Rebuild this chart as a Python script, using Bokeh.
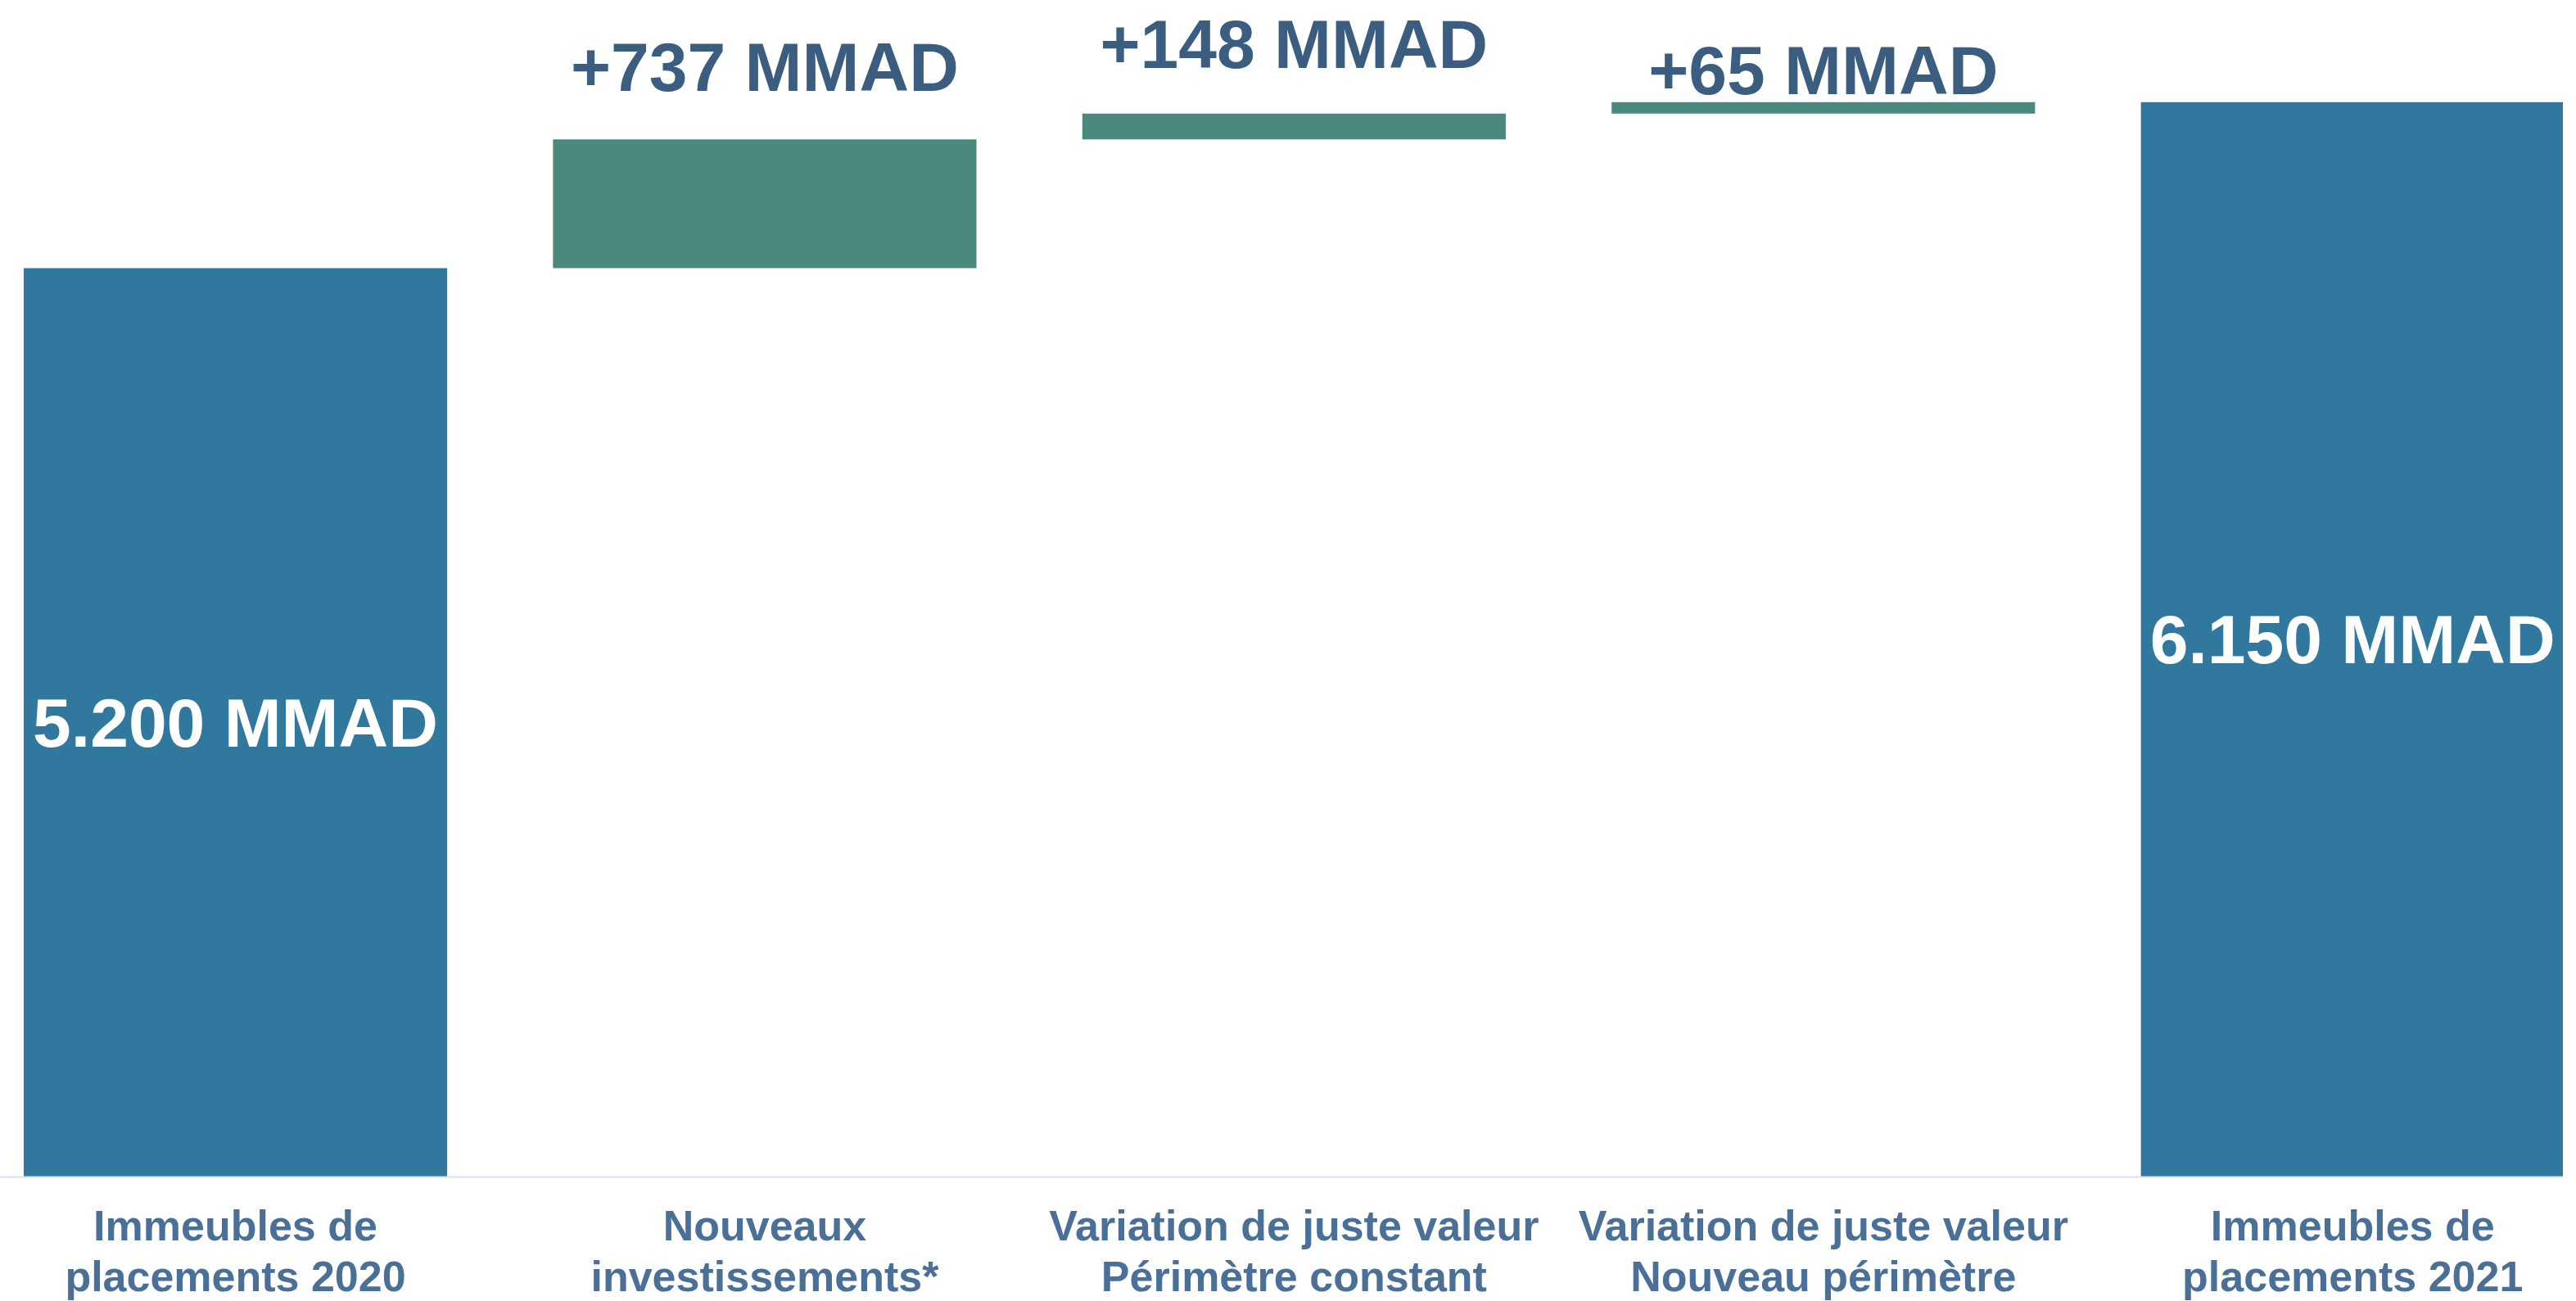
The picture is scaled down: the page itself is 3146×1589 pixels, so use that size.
from bokeh.plotting import figure
from bokeh.models import Range1d, FixedTicker, ColumnDataSource
from bokeh.core.properties import value
from bokeh.embed import file_html
from bokeh.resources import INLINE

# ---- data ----
categories = [
    "Immeubles de\nplacements 2020",
    "Nouveaux\ninvestissements*",
    "Variation de juste valeur\nPérimètre constant",
    "Variation de juste valeur\nNouveau périmètre",
    "Immeubles de\nplacements 2021",
]
start_value = 5200
deltas = [737, 148, 65]
end_value = 6150
total_labels = ["5.200 MMAD", "6.150 MMAD"]
delta_labels = ["+737 MMAD", "+148 MMAD", "+65 MMAD"]

# ---- styling ----
BLUE = "#31789f"
GREEN = "#4a897c"
TOP_TXT = "#3b5e80"
AXIS_TXT = "#4a7098"
FONT = "Liberation Sans"
label_lift_px = [88, 85, 39]

# waterfall geometry from data
xs = list(range(len(categories)))
total_x = [xs[0], xs[-1]]
total_top = [start_value, end_value]
cum = [start_value]
for d in deltas:
    cum.append(cum[-1] + d)
delta_x = xs[1:-1]
delta_bottom = cum[:-1]
delta_top = cum[1:]

p = figure(frame_width=3130, frame_height=1428, output_backend="svg", toolbar_location=None,
           x_range=Range1d(-0.444, 4.398), y_range=Range1d(0, 6690),
           min_border_left=0, min_border_right=0, min_border_top=9,
           min_border_bottom=0)
p.outline_line_color = None
p.xgrid.visible = False
p.ygrid.visible = False
p.yaxis.visible = False
p.background_fill_color = "white"
p.border_fill_color = "white"

p.vbar(x=total_x, bottom=0, top=total_top, width=0.8, fill_color=BLUE, line_color=None)
p.vbar(x=delta_x, bottom=delta_bottom, top=delta_top, width=0.8, fill_color=GREEN, line_color=None)

# inner labels of totals
src_tot = ColumnDataSource(dict(x=total_x, y=[t / 2 for t in total_top], t=total_labels))
p.text(x="x", y="y", text="t", source=src_tot, text_color="white",
       text_font=value(FONT), text_font_style="bold", text_font_size="84px",
       text_align="center", text_baseline="middle")

# delta labels above bars
src_d = ColumnDataSource(dict(x=delta_x, y=delta_top, t=delta_labels,
                              off=[-v for v in label_lift_px]))
p.text(x="x", y="y", text="t", source=src_d, y_offset="off", text_color=TOP_TXT,
       text_font=value(FONT), text_font_style="bold", text_font_size="84px",
       text_align="center", text_baseline="alphabetic")

ax = p.xaxis[0]
ax.ticker = FixedTicker(ticks=xs)
ax.major_label_overrides = {i: c for i, c in zip(xs, categories)}
ax.major_tick_line_color = None
ax.major_tick_out = 0
ax.major_tick_in = 0
ax.minor_tick_line_color = None
ax.minor_tick_out = 0
ax.axis_line_color = "#d9e2ef"
ax.axis_line_width = 2
ax.major_label_text_font = FONT
ax.major_label_text_font_style = "bold"
ax.major_label_text_font_size = "52px"
ax.major_label_text_line_height = 1.07
ax.major_label_text_color = AXIS_TXT
ax.major_label_standoff = 30

open("out.html", "w").write(file_html(p, INLINE))
